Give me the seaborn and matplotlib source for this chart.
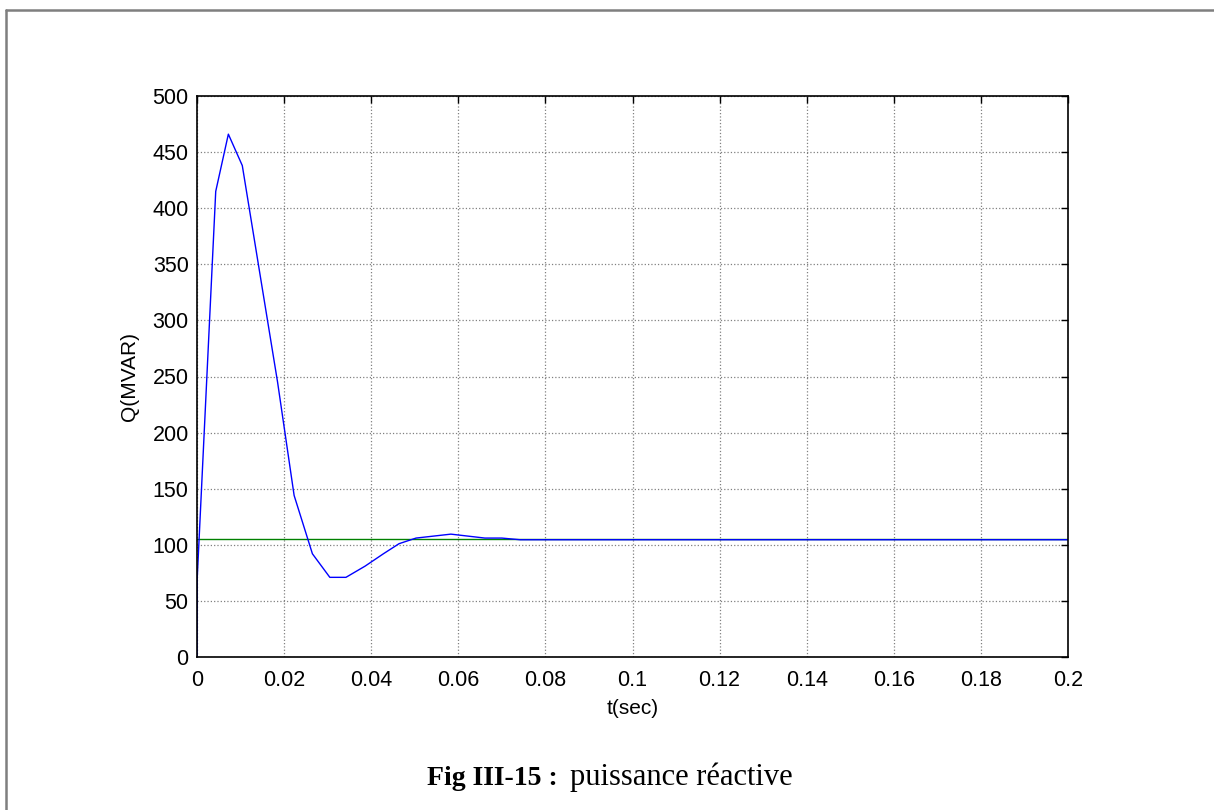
import matplotlib
matplotlib.use('Agg')
import matplotlib.pyplot as plt
import numpy as np
import pandas as pd
import seaborn as sns
from matplotlib.lines import Line2D

# reactive power response
t = [0.0, 0.00005, 0.0043, 0.0072, 0.0104, 0.0143, 0.0185, 0.0223, 0.0265, 0.0305,
     0.0342, 0.0386, 0.0428, 0.0464, 0.0503, 0.0583, 0.0661, 0.0700, 0.0742, 0.2]
q = [0.0, 70.0, 415.0, 466.0, 438.0, 345.0, 245.0, 144.0, 92.0, 71.0,
     71.0, 81.0, 92.0, 101.0, 106.0, 109.5, 106.0, 106.0, 104.5, 104.5]
# reference level
t_ref = [0.0, 0.2]
q_ref = [105.0, 105.0]

xticks = [0, 0.02, 0.04, 0.06, 0.08, 0.1, 0.12, 0.14, 0.16, 0.18, 0.2]
xtick_labels = ['0', '0.02', '0.04', '0.06', '0.08', '0.1', '0.12', '0.14', '0.16', '0.18', '0.2']
yticks = [0, 50, 100, 150, 200, 250, 300, 350, 400, 450, 500]

sns.set_style('white')
plt.rcParams['font.family'] = ['Liberation Sans', 'DejaVu Sans']
plt.rcParams['text.color'] = 'black'
plt.rcParams['axes.labelcolor'] = 'black'

df = pd.DataFrame({'t': t, 'Q': q})
df_ref = pd.DataFrame({'t': t_ref, 'Q': q_ref})

fig = plt.figure(figsize=(12.14, 8.1), dpi=100)
ax = fig.add_axes([197 / 1214, 1 - 657 / 810, (1068 - 197) / 1214, (657 - 96) / 810])

sns.lineplot(data=df_ref, x='t', y='Q', ax=ax, color='#008000', linewidth=1.0)
sns.lineplot(data=df, x='t', y='Q', ax=ax, color='#0000ff', linewidth=1.0)

ax.set_xlim(0, 0.2)
ax.set_ylim(0, 500)
ax.set_xticks(xticks)
ax.set_xticklabels(xtick_labels)
ax.set_yticks(yticks)
ax.grid(True, linestyle=':', color='#808080', linewidth=0.9)
ax.tick_params(direction='in', length=5, width=1, top=True, right=True,
               labelsize=15.5, colors='black', pad=6)
ax.tick_params(axis='x', pad=9)
for s in ax.spines.values():
    s.set_color('black')
    s.set_linewidth(1.2)
    s.set_visible(True)
ax.set_xlabel('t(sec)', fontsize=15, labelpad=6)
ax.set_ylabel('Q(MVAR)', fontsize=15, labelpad=10)

# page border (left and top only visible)
fig.add_artist(Line2D([6 / 1214, 6 / 1214], [0, 1 - 10 / 810], transform=fig.transFigure,
                      color='#7f7f7f', linewidth=1.8))
fig.add_artist(Line2D([6 / 1214, 1], [1 - 10 / 810, 1 - 10 / 810], transform=fig.transFigure,
                      color='#7f7f7f', linewidth=1.8))

# caption
serif = ['Liberation Serif', 'DejaVu Serif']
fig.text(427 / 1214, 1 - 785 / 810, 'Fig III-15 :', fontsize=20, fontweight='bold',
         family=serif, ha='left', va='baseline', color='black')
fig.text(793 / 1214, 1 - 785 / 810, 'puissance réactive', fontsize=22,
         family=serif, ha='right', va='baseline', color='black')

fig.savefig('out.png', dpi=100)
